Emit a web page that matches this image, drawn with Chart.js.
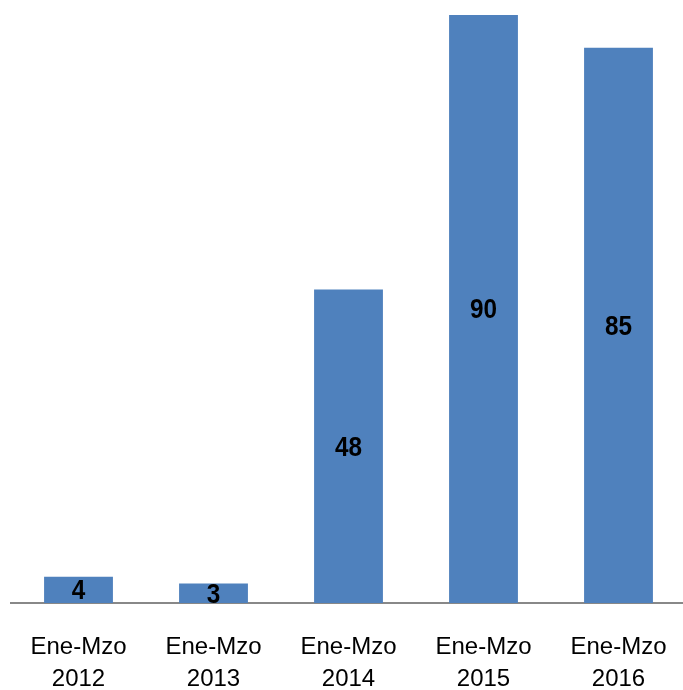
<!DOCTYPE html>
<html lang="es">
<head>
    <meta charset="UTF-8">
    <title>Ene-Mzo 2012-2016</title>
    <style>
        html, body { margin: 0; padding: 0; background: #fff; overflow: hidden; }
        .wrap { width: 686px; height: 690px; }
    </style>
</head>
<body>
    <div class="wrap">
        <canvas id="chart" width="686" height="690"></canvas>
    </div>

    <script src="https://cdn.jsdelivr.net/npm/chart.js"></script>
    <script>
        // Datos
        const periods = ['Ene-Mzo', 'Ene-Mzo', 'Ene-Mzo', 'Ene-Mzo', 'Ene-Mzo'];
        const years = ['2012', '2013', '2014', '2015', '2016'];
        const values = [4, 3, 48, 90, 85];

        const labels = periods.map((p, i) => [p, years[i]]);

        // etiquetas de valor centradas en cada barra
        const barLabels = {
            id: 'barLabels',
            afterDatasetsDraw(chart) {
                const ctx = chart.ctx;
                const meta = chart.getDatasetMeta(0);
                ctx.save();
                ctx.font = 'bold 27px "Liberation Sans", Arial, sans-serif';
                ctx.fillStyle = '#000';
                ctx.textAlign = 'center';
                ctx.textBaseline = 'middle';
                meta.data.forEach((bar, i) => {
                    const p = bar.getProps(['x', 'y', 'base'], true);
                    ctx.save();
                    ctx.translate(p.x, (p.y + p.base) / 2 + 2);
                    ctx.scale(0.9, 1);
                    ctx.fillText(values[i], 0, 0);
                    ctx.restore();
                });
                ctx.restore();
            }
        };

        new Chart(document.getElementById('chart'), {
            type: 'bar',
            data: {
                labels: labels,
                datasets: [{
                    data: values,
                    backgroundColor: '#4F81BD',
                    borderWidth: 0,
                    categoryPercentage: 1,
                    barPercentage: 0.51
                }]
            },
            options: {
                responsive: false,
                animation: false,
                layout: { padding: { left: 11, right: 0, top: 15, bottom: 0 } },
                plugins: {
                    legend: { display: false },
                    tooltip: { enabled: false }
                },
                scales: {
                    x: {
                        grid: { display: false, drawTicks: true, tickLength: 22 },
                        border: { display: true, color: '#888888', width: 2 },
                        ticks: {
                            color: '#000',
                            padding: 6,
                            maxRotation: 0,
                            font: { family: '"Liberation Sans", Arial, sans-serif', size: 24, lineHeight: 1.333 }
                        },
                        afterFit(scale) { scale.height = 87; }
                    },
                    y: {
                        display: false,
                        min: 0,
                        max: 90
                    }
                }
            },
            plugins: [barLabels]
        });
    </script>
</body>
</html>
